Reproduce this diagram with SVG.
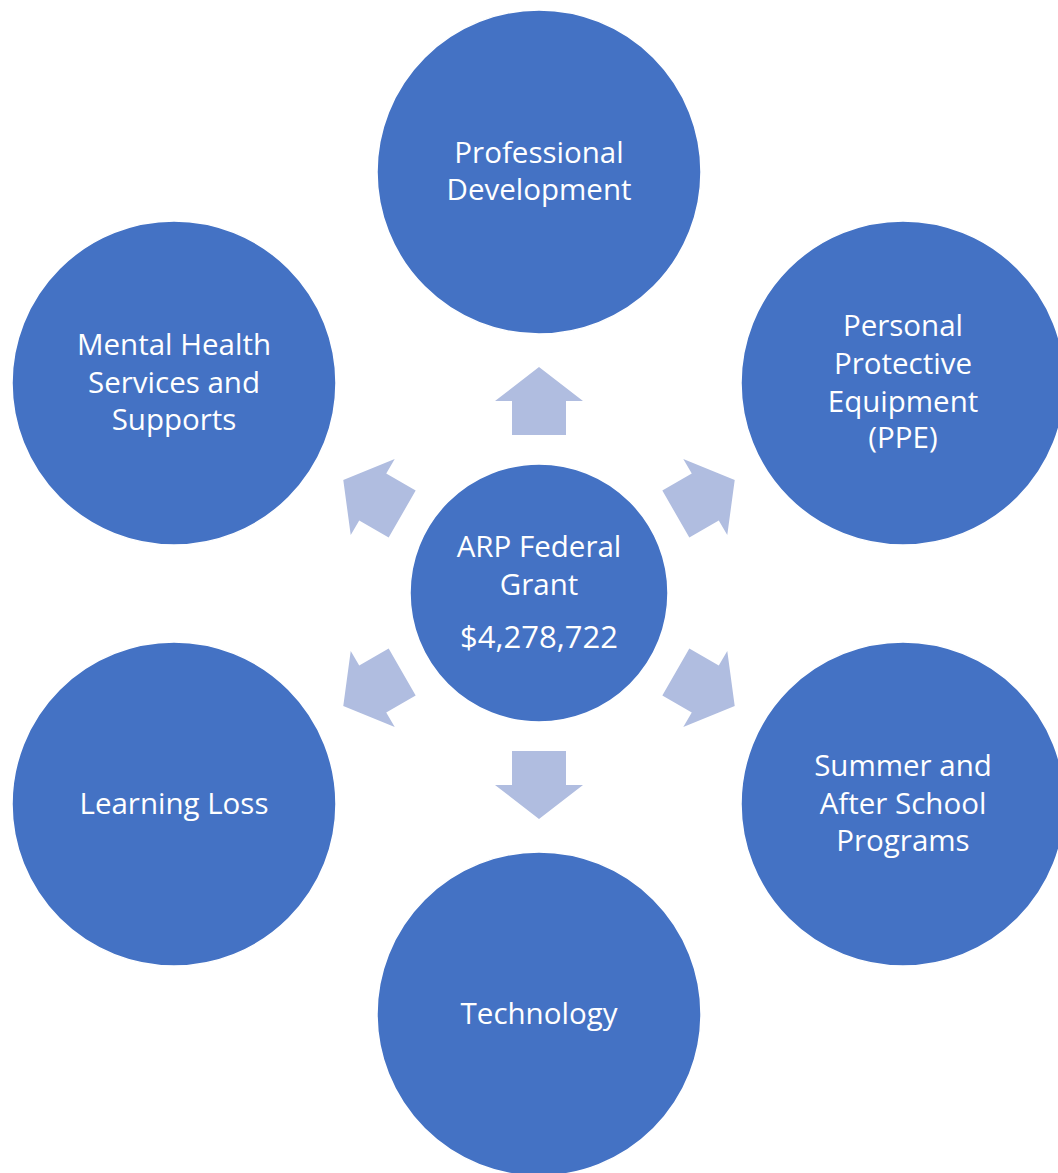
<svg xmlns="http://www.w3.org/2000/svg" width="1058" height="1173" viewBox="0 0 1058 1173">
  <style>
    .node { fill: #4472C4; stroke: #FFFFFF; stroke-width: 1.5; }
    .arrow { fill: #B0BDE0; }
    .label { font-family: "Open Sans", "Lato", "Liberation Sans", sans-serif; font-size: 29.5px; fill: #FFFFFF; text-anchor: middle; }
    .amount { font-size: 31px; }
  </style>
  <defs>
    <polygon id="arr" class="arrow" points="-27,-158 27,-158 27,-192 44,-192 0,-226 -44,-192 -27,-192"/>
  </defs>
  <rect width="1058" height="1173" fill="#FFFFFF"/>
  <g id="connectors" transform="translate(539,593)">
    <use href="#arr" transform="rotate(0)"/>
    <use href="#arr" transform="rotate(60)"/>
    <use href="#arr" transform="rotate(120)"/>
    <use href="#arr" transform="rotate(180)"/>
    <use href="#arr" transform="rotate(240)"/>
    <use href="#arr" transform="rotate(300)"/>
  </g>
  <g id="center">
    <circle class="node" cx="539" cy="593" r="129"/>
    <text class="label" x="539" y="557">ARP Federal</text>
    <text class="label" x="539" y="595">Grant</text>
    <text class="label amount" x="539" y="648">$4,278,722</text>
  </g>
  <g id="professional-development">
    <circle class="node" cx="539" cy="172" r="162"/>
    <text class="label" x="539" y="163">Professional</text>
    <text class="label" x="539" y="200">Development</text>
  </g>
  <g id="ppe">
    <circle class="node" cx="903" cy="383" r="162"/>
    <text class="label" x="903" y="336">Personal</text>
    <text class="label" x="903" y="374">Protective</text>
    <text class="label" x="903" y="412">Equipment</text>
    <text class="label" x="903" y="448">(PPE)</text>
  </g>
  <g id="summer-after-school">
    <circle class="node" cx="903" cy="804" r="162"/>
    <text class="label" x="903" y="776">Summer and</text>
    <text class="label" x="903" y="814">After School</text>
    <text class="label" x="903" y="851">Programs</text>
  </g>
  <g id="technology">
    <circle class="node" cx="539" cy="1014" r="162"/>
    <text class="label" x="539" y="1024">Technology</text>
  </g>
  <g id="learning-loss">
    <circle class="node" cx="174" cy="804" r="162"/>
    <text class="label" x="174" y="814">Learning Loss</text>
  </g>
  <g id="mental-health">
    <circle class="node" cx="174" cy="383" r="162"/>
    <text class="label" x="174" y="355">Mental Health</text>
    <text class="label" x="174" y="393">Services and</text>
    <text class="label" x="174" y="430">Supports</text>
  </g>
</svg>
